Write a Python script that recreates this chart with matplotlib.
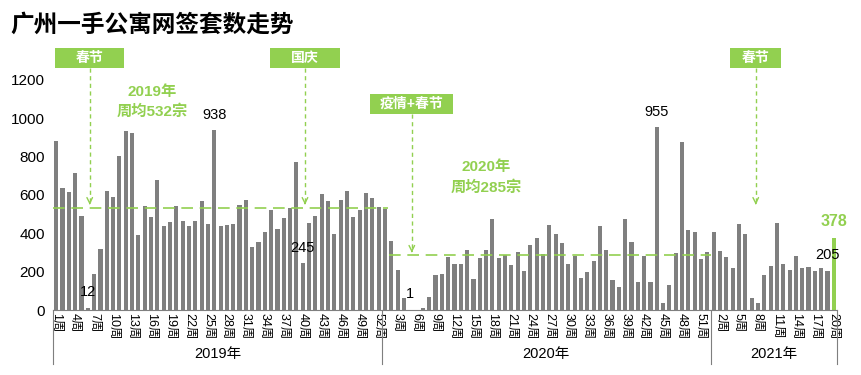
import matplotlib

matplotlib.use("Agg")
import matplotlib.pyplot as plt
from matplotlib.patches import Rectangle

plt.rcParams["font.family"] = ["Liberation Sans", "Noto Sans CJK SC", "DejaVu Sans"]

# weekly signed units, 2019 w1 .. 2021 w20
YEARS = ["2019年", "2020年", "2021年"]
VALUES_2019 = [
    882, 638, 617, 715, 492, 12, 190, 318, 621, 591, 803, 935, 922,
    393, 544, 487, 678, 440, 459, 544, 466, 440, 466, 569, 450, 938,
    440, 445, 449, 548, 574, 329, 355, 407, 522, 423, 480, 534, 772,
    245, 454, 492, 605, 569, 398, 574, 621, 487, 522, 610, 584, 537,
]
VALUES_2020 = [
    527, 360, 209, 63, 1, 2, 10, 68, 183, 188, 277, 242, 242,
    315, 163, 273, 315, 475, 273, 289, 235, 304, 205, 339, 376, 292,
    443, 397, 350, 240, 280, 167, 198, 256, 438, 313, 157, 120, 475,
    355, 146, 282, 146, 955, 37, 130, 297, 877, 417, 407, 266, 303,
]
VALUES_2021 = [
    407, 308, 277, 219, 449, 397, 63, 37, 183, 230,
    454, 240, 209, 282, 219, 224, 203, 219, 205, 378,
]
AVG_2019 = 532
AVG_2020 = 285
# (year index, week) of bars carrying a value label
LABELLED = [(0, 6), (0, 26), (0, 40), (1, 5), (1, 44), (2, 19)]
# event boxes: text, x-left, x-right, y-bottom, y-top, arrow tip
EVENTS = [
    ("春节", -0.2, 10.8, 1263, 1367, 535),
    ("国庆", 33.8, 44.9, 1263, 1367, 535),
    ("疫情+春节", 49.7, 62.8, 1023, 1127, 285),
    ("春节", 106.6, 114.7, 1263, 1367, 535),
]

GREEN = "#92d050"
GREY = "#7f7f7f"

series = [VALUES_2019, VALUES_2020, VALUES_2021]
values = VALUES_2019 + VALUES_2020 + VALUES_2021
weeks = [w + 1 for s in series for w in range(len(s))]
xs = list(range(len(values)))
starts = [0, len(VALUES_2019), len(VALUES_2019) + len(VALUES_2020)]

fig = plt.figure(figsize=(8.61, 3.75), dpi=100)
ax = fig.add_axes([0.0616, 0.1733, 0.9105, 0.6134])

colors = [GREY] * (len(values) - 1) + [GREEN]
ax.bar(xs, values, width=0.65, color=colors, zorder=2)
ax.set_xlim(-0.5, len(values) - 0.5)
ax.set_ylim(0, 1200)
ax.set_yticks(range(0, 1201, 200))
ax.tick_params(axis="y", length=0, labelsize=11, pad=6)
ax.set_xticks(xs[::3], [f"{w}周" for w in weeks[::3]], rotation=270, fontsize=9)
ax.tick_params(axis="x", length=0, pad=2)
for side in ("top", "right", "left"):
    ax.spines[side].set_visible(False)
ax.spines["bottom"].set_color(GREY)
ax.spines["bottom"].set_linewidth(0.8)

# year groups below the axis
trans = ax.get_xaxis_transform()
bounds = [s - 0.5 for s in starts] + [len(values) - 0.5]
for b in bounds:
    ax.plot([b, b], [0, -0.235], transform=trans, color=GREY, lw=0.8, clip_on=False)
for year, lo, hi in zip(YEARS, bounds[:-1], bounds[1:]):
    ax.text((lo + hi) / 2, -0.19, year, transform=trans, ha="center", va="center", fontsize=10.5)

# yearly averages
ax.plot([-0.5, 52.5], [AVG_2019, AVG_2019], color=GREEN, lw=1.2, dashes=(7, 4), zorder=3)
ax.plot([52.6, 103.6], [AVG_2020, AVG_2020], color=GREEN, lw=1.2, dashes=(7, 4), zorder=3)
for x, y1, y2, avg, year in [(15.2, 1137, 1033, AVG_2019, "2019年"), (68.0, 746, 636, AVG_2020, "2020年")]:
    ax.text(x, y1, year, color=GREEN, fontsize=11, fontweight="bold", ha="center", va="center")
    ax.text(x, y2, f"周均{avg}宗", color=GREEN, fontsize=11, fontweight="bold", ha="center", va="center")

# value labels
for yi, week in LABELLED:
    i = starts[yi] + week - 1
    ax.annotate(str(values[i]), (i, values[i]), xytext=(0, 6), textcoords="offset points",
                ha="center", va="bottom", fontsize=10.5)
ax.annotate(str(values[-1]), (xs[-1], values[-1]), xytext=(0, 6), textcoords="offset points",
            ha="center", va="bottom", fontsize=11.5, fontweight="bold", color=GREEN)

# event boxes with dashed arrows
for text, x0, x1, y0, y1, tip in EVENTS:
    ax.add_patch(Rectangle((x0, y0), x1 - x0, y1 - y0, facecolor=GREEN, edgecolor="none",
                           clip_on=False, zorder=4))
    xc = (x0 + x1) / 2
    ax.text(xc, (y0 + y1) / 2, text, color="white", fontsize=10, fontweight="bold",
            ha="center", va="center", zorder=5, clip_on=False)
    ax.plot([xc, xc], [y0, tip + 30], color=GREEN, lw=1, dashes=(3, 2.5), clip_on=False, zorder=3)
    ax.annotate("", xy=(xc, tip), xytext=(xc, tip + 40),
                arrowprops=dict(arrowstyle="->", color=GREEN, lw=1, mutation_scale=10), zorder=3)

fig.text(0.012, 0.933, "广州一手公寓网签套数走势", fontsize=17, fontweight="bold", va="center")

fig.savefig("out.png", dpi=100)
